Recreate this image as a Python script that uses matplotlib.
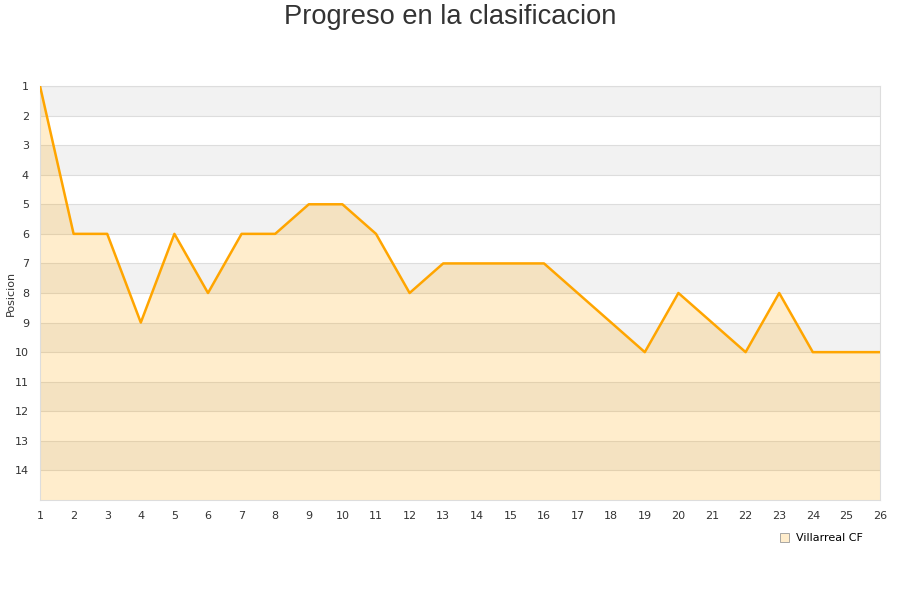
import numpy as np
import matplotlib
matplotlib.use('Agg')
import matplotlib.pyplot as plt
from matplotlib.patches import Patch

# jornadas y posicion del equipo
jornadas = list(range(1, 27))
posicion = [1, 6, 6, 9, 6, 8, 6, 6, 5, 5, 6, 8, 7, 7, 7, 7, 8, 9, 10, 8, 9, 10, 8, 10, 10, 10]
equipo = 'Villarreal CF'

fig = plt.figure(figsize=(9, 6), dpi=100)
ax = fig.add_axes([40 / 900, 1 - 500 / 600, 840 / 900, 414 / 600])

# bandas alternas de fondo
for k in range(1, 15, 2):
    ax.axhspan(k, k + 1, color='#f2f2f2', zorder=0, lw=0)
for k in range(1, 15):
    ax.axhline(k, color='#dddddd', lw=0.8, zorder=1)

ax.fill_between(jornadas, posicion, 15, color='orange', alpha=0.2, lw=0, zorder=2)
ax.plot(jornadas, posicion, color='orange', lw=1.8, zorder=3)

ax.set_xlim(1, 26)
ax.set_ylim(15, 1)
ax.set_xticks(jornadas)
ax.set_yticks(range(1, 15))
ax.tick_params(length=0, labelsize=8, colors='#333333', pad=8)
for s in ax.spines.values():
    s.set_color('#dddddd')

ax.set_ylabel('Posicion', fontsize=8, color='#333333')
ax.yaxis.set_label_coords(-24 / 840, 0.5)
fig.suptitle('Progreso en la clasificacion', fontsize=19.6, color='#333333', y=0.993,
             family='Liberation Sans')

handle = Patch(facecolor='#ffedcc', edgecolor='#999999', lw=0.6)
fig.legend([handle], [equipo], loc='upper left', bbox_to_anchor=(770 / 900, 1 - 523 / 600),
           frameon=False, fontsize=8, handlelength=0.8, handleheight=0.8, handletextpad=0.6)

fig.savefig('out.png')
